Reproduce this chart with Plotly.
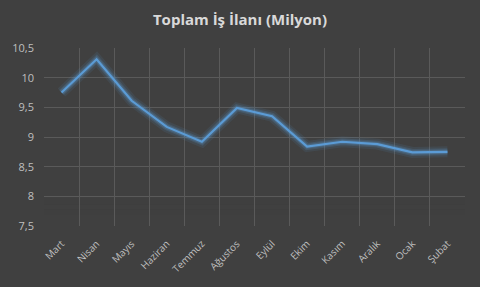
import plotly.graph_objects as go

months = ["Mart", "Nisan", "Mayıs", "Haziran", "Temmuz", "Ağustos", "Eylül",
          "Ekim", "Kasım", "Aralık", "Ocak", "Şubat"]
values = [9.75, 10.31, 9.61, 9.17, 8.92, 9.49, 9.35, 8.84, 8.92, 8.88, 8.74, 8.75]
y_ticks = [7.5, 8, 8.5, 9, 9.5, 10, 10.5]
y_tick_text = ["7,5", "8", "8,5", "9", "9,5", "10", "10,5"]
title_text = "Toplam İş İlanı (Milyon)"

BG = "#404040"
LINE = "#5b9bd5"

fig = go.Figure()
# glow layers
for w, a in [(11, 0.10), (7, 0.18), (4.5, 0.25)]:
    fig.add_trace(go.Scatter(x=months, y=values, mode="lines",
                             line=dict(color=f"rgba(91,155,213,{a})", width=w),
                             hoverinfo="skip", showlegend=False))
fig.add_trace(go.Scatter(x=months, y=values, mode="lines",
                         line=dict(color=LINE, width=2.2), showlegend=False))

# fade the grid near the bottom
bands = 6
for i in range(bands):
    y0 = 7.5 + i * 0.55 / bands
    y1 = 7.5 + (i + 1) * 0.55 / bands
    fig.add_shape(type="rect", xref="paper", yref="y", x0=0, x1=1, y0=y0, y1=y1,
                  fillcolor=BG, opacity=0.9 - i * 0.15, line_width=0, layer="between")

fig.update_layout(
    width=480, height=287,
    paper_bgcolor=BG, plot_bgcolor=BG,
    margin=dict(l=41, r=15, t=48, b=57),
    title=dict(text=f"<b>{title_text}</b>", x=0.5, xanchor="center", y=0.93, yanchor="middle",
               font=dict(family="Open Sans", size=15, color="#d9d9d9")),
    font=dict(family="Open Sans", size=10, color="#bfbfbf"),
    showlegend=False,
)
fig.update_xaxes(type="category", tickson="boundaries", showgrid=True, gridcolor="#5a5a5a",
                 gridwidth=1, tickangle=-45, ticks="", zeroline=False, showline=False,
                 ticklabelstandoff=9,
                 tickfont=dict(size=10, color="#bfbfbf"), range=[-0.5, 11.5])
fig.update_yaxes(range=[7.5, 10.5], tickvals=y_ticks, ticktext=y_tick_text, showgrid=True,
                 gridcolor="#5a5a5a", gridwidth=1, zeroline=False, showline=False, ticks="",
                 ticklabelstandoff=9,
                 tickfont=dict(size=11, color="#bfbfbf"))

fig.write_html("out.html")
